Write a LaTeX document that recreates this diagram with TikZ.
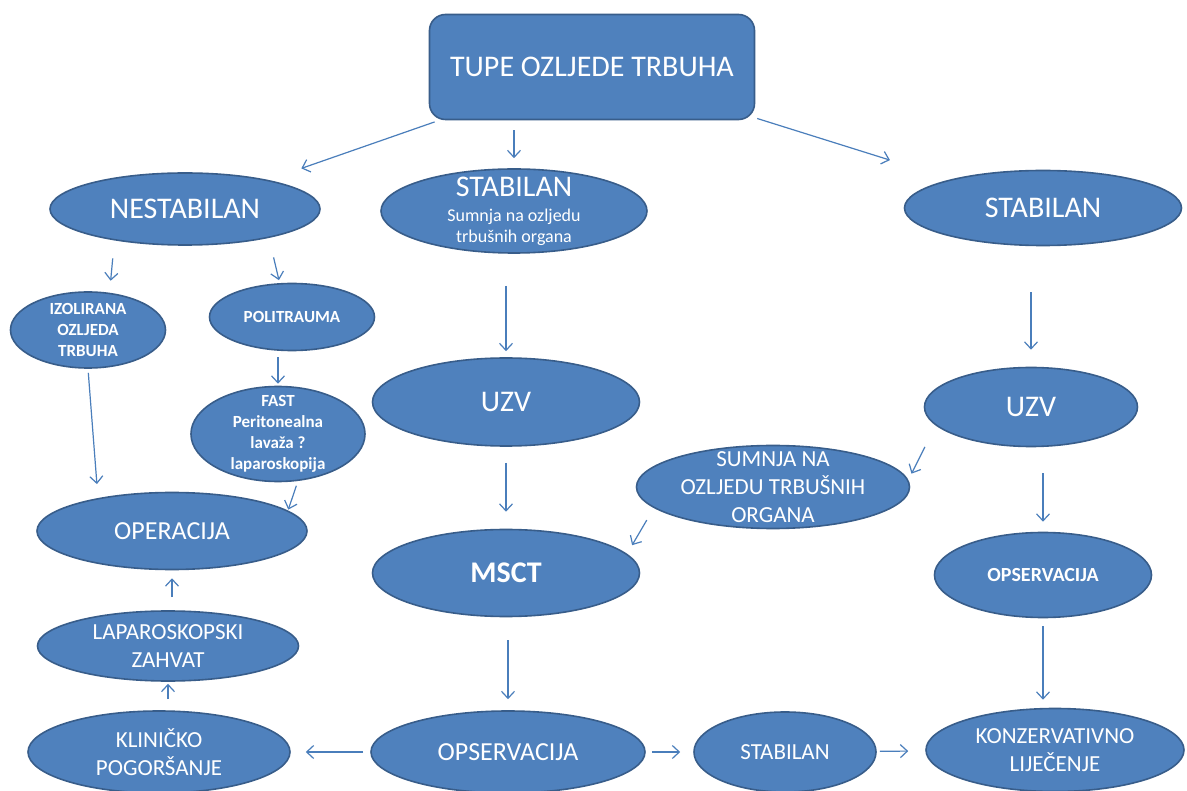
\documentclass[tikz,border=0pt]{standalone}
\usepackage{fontspec}
\setmainfont{Carlito}
\usetikzlibrary{arrows.meta,shapes.geometric}

\definecolor{ovalfill}{HTML}{4F81BD}
\definecolor{ovalline}{HTML}{385D8A}
\definecolor{arrowblue}{HTML}{4A7EBB}
\newcommand{\bigtxt}{\fontsize{30}{36}\selectfont}

\begin{document}
\begin{tikzpicture}[
    x=1pt, y=-1pt,
    head/.style={draw=ovalline, fill=ovalfill, line width=1.6pt, rounded corners=16pt,
                minimum width=325pt, minimum height=105pt, text=white},
    oval/.style 2 args={ellipse, draw=ovalline, fill=ovalfill, line width=1.6pt,
                minimum width=#1, minimum height=#2, inner sep=-12pt,
                text=white, align=center},
    txtL/.style={font=\bigtxt},
    txtLB/.style={font=\bfseries\bigtxt},
    txtM/.style={font=\fontsize{26}{31}\selectfont},
    txtS/.style={font=\fontsize{23}{28}\selectfont},
    txtR/.style={font=\bfseries\fontsize{20}{24}\selectfont},
    txtB/.style={font=\bfseries\fontsize{17}{21}\selectfont},
    txtX/.style={font=\fontsize{18}{21}\selectfont},
    arrow/.style={-{Straight Barb[length=7pt,width=13pt]}, draw=arrowblue, line width=1.2pt},
]
\fill[white] (0,0) rectangle (1187,791);
\useasboundingbox (0,0) rectangle (1187,791);

% Top
\node[head, txtL] (top) at (592,67) {TUPE OZLJEDE TRBUHA};

% Left branch
\node[oval={270pt}{72pt}, txtL] (nest) at (185,209) {NESTABILAN};
\node[oval={155pt}{76pt}, txtB] (izol) at (88,330) {IZOLIRANA\\OZLJEDA\\TRBUHA};
\node[oval={165pt}{67pt}, txtB] (polit) at (292,317) {POLITRAUMA};
\node[oval={174pt}{95pt}, txtB] (fast) at (278,434) {FAST\\Peritonealna\\lavaža ?\\laparoskopija};
\node[oval={270pt}{77pt}, txtM] (oper) at (172,531) {OPERACIJA};
\node[oval={261pt}{70pt}, txtS] (lapar) at (168,646) {LAPAROSKOPSKI\\ZAHVAT};
\node[oval={262pt}{82pt}, txtS] (klin) at (159,752) {KLINIČKO\\POGORŠANJE};

% Middle branch
\node[oval={266pt}{84pt}, txtX] (stabm) at (514,211)
    {{\bigtxt STABILAN}\\[4pt]Sumnja na ozljedu\\trbušnih organa};
\node[oval={267pt}{88pt}, txtL] (uzvm) at (506,402) {UZV};
\node[oval={267pt}{87pt}, txtLB] (msct) at (506,573) {MSCT};
\node[oval={274pt}{82pt}, txtM] (opsm) at (508,752) {OPSERVACIJA};
\node[oval={182pt}{80pt}, txtS] (stabb) at (785,752) {STABILAN};

% Right branch
\node[oval={277pt}{75pt}, txtL] (stabr) at (1043,208) {STABILAN};
\node[oval={213pt}{79pt}, txtL] (uzvr) at (1031,407) {UZV};
\node[oval={273pt}{83pt}, txtS] (sumn) at (773,487) {SUMNJA NA\\OZLJEDU TRBUŠNIH\\ORGANA};
\node[oval={217pt}{85pt}, txtR] (opsr) at (1043,575) {OPSERVACIJA};
\node[oval={258pt}{83pt}, txtS] (konz) at (1055,750) {KONZERVATIVNO\\LIJEČENJE};

% Arrows
\draw[arrow, shorten <=5pt, shorten >=35pt] (top) -- (nest);
\draw[arrow, shorten <=10pt, shorten >=10pt] (stabm.north |- top.south) -- (stabm.north);
\draw[arrow, shorten <=2pt, shorten >=64pt] (top) -- (stabr);
\draw[arrow, shorten <=18pt, shorten >=12pt] (nest.204) -- (izol.60);
\draw[arrow, shorten <=20pt, shorten >=3pt] (nest.341) -- (polit.110);
\draw[arrow, shorten <=4pt, shorten >=14pt] (izol.south) -- (oper.156);
\draw[arrow, shorten <=6pt, shorten >=2pt] (fast.north |- polit.south) -- (fast.north);
\draw[arrow, shorten <=5pt, shorten >=1pt] (fast.293) -- (oper.10);
\draw[arrow, shorten <=13pt, shorten >=8pt] (oper.south |- lapar.north) -- (oper.south);
\draw[arrow, shorten <=11pt, shorten >=2pt] (lapar.south |- klin.north) -- (lapar.south);
\draw[arrow, shorten <=32pt, shorten >=6pt] (uzvm.north |- stabm.south) -- (uzvm.north);
\draw[arrow, shorten <=16pt, shorten >=17pt] (msct.north |- uzvm.south) -- (msct.north);
\draw[arrow, shorten <=23pt, shorten >=11pt] (opsm.north |- msct.south) -- (opsm.north);
\draw[arrow, shorten <=7pt, shorten >=15pt] (opsm) -- (klin);
\draw[arrow, shorten <=6pt, shorten >=13pt] (opsm) -- (stabb);
\draw[arrow, shorten <=3pt, shorten >=17pt] (stabb) -- (konz);
\draw[arrow, shorten <=46pt, shorten >=17pt] (uzvr.north |- stabr.south) -- (uzvr.north);
\draw[arrow, shorten <=24pt, shorten >=7pt] (uzvr.191) -- (sumn.3);
\draw[arrow, shorten <=14pt, shorten >=10pt] (sumn.190) -- (msct.9);
\draw[arrow, shorten <=26pt, shorten >=10pt] (opsr.north |- uzvr.south) -- (opsr.north);
\draw[arrow, shorten <=8pt, shorten >=8pt] (opsr.south) -- (opsr.south |- konz.north);

\end{tikzpicture}
\end{document}
